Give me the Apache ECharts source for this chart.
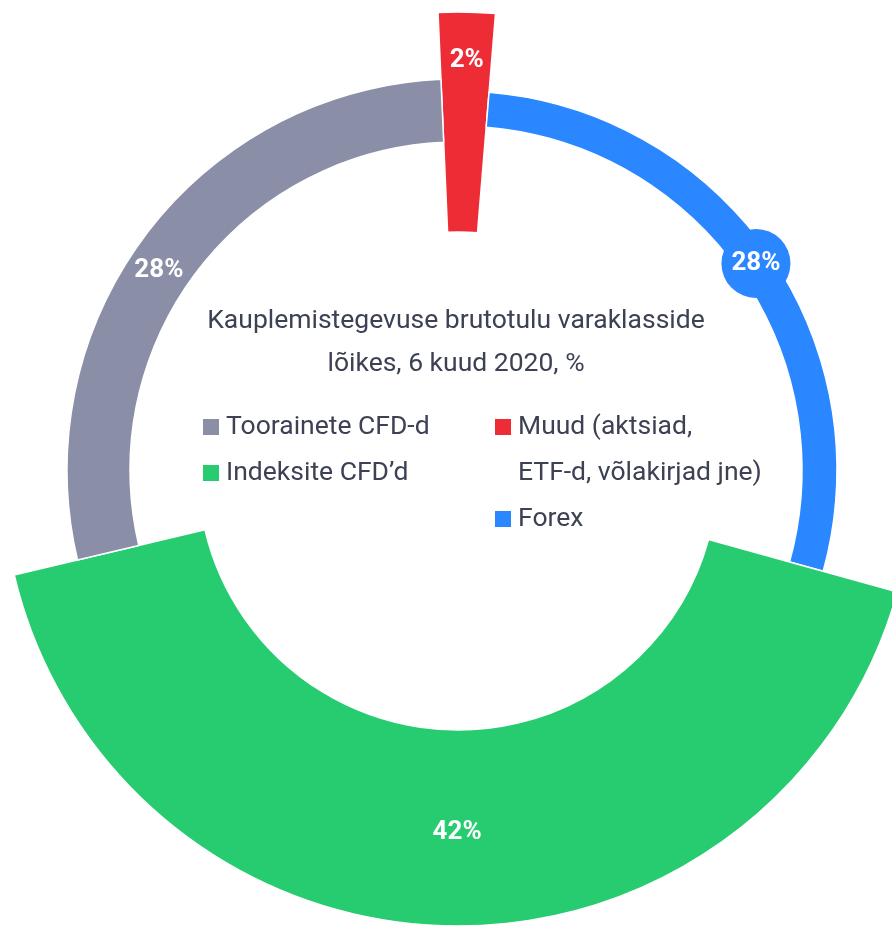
<!DOCTYPE html>
<html>
<head>
<meta charset="utf-8">
<script src="https://cdn.jsdelivr.net/npm/echarts@6/dist/echarts.min.js"></script>
<style>
  html, body { margin: 0; padding: 0; background: #fff; }
  #chart { width: 892px; height: 926px; }
</style>
</head>
<body>
<div id="chart"></div>
<script>
// andmed (clockwise from the top)
var names = ['Muud (aktsiad, ETF-d, võlakirjad jne)', 'Forex', 'Indeksite CFD’d', 'Toorainete CFD-d'];
var values = [2, 28, 42, 28];
var colors = ['#ee2c35', '#2a87ff', '#27cc70', '#8a8ea7'];

var titleText = 'Kauplemistegevuse brutotulu varaklasside\nlõikes, 6 kuud 2020, %';
var font = 'Roboto, "Noto Sans", sans-serif';
var textColor = '#3d4154';

// one pie per slice, each slice has its own ring thickness
function sliceSeries(k, r0, r1, label, labelLayout) {
  return {
    type: 'pie',
    center: [458, 470],
    radius: [r0, r1],
    startAngle: 92.5,
    clockwise: true,
    silent: true,
    animation: false,
    avoidLabelOverlap: false,
    labelLine: { show: false },
    labelLayout: labelLayout || {},
    data: names.map(function (n, i) {
      var own = i === k;
      return {
        name: n,
        value: values[i],
        itemStyle: own
          ? { color: colors[i], borderColor: '#fff', borderWidth: 1.5 }
          : { color: 'rgba(0,0,0,0)', borderWidth: 0 },
        label: own ? label : { show: false }
      };
    })
  };
}

function pctLabel(extra) {
  var l = {
    show: true,
    position: 'inside',
    formatter: function (p) { return Math.round(p.percent) + '%'; },
    color: '#fff',
    fontFamily: font,
    fontSize: 26,
    fontWeight: 'bold',
    textBorderWidth: 0
  };
  for (var key in extra) l[key] = extra[key];
  return l;
}

function legendItem(i, left, top, fmt) {
  return {
    selectedMode: false,
    orient: 'vertical',
    left: left,
    top: top,
    padding: 0,
    itemWidth: 16,
    itemHeight: 16,
    icon: 'rect',
    itemStyle: { borderWidth: 0 },
    formatter: fmt || '{name}',
    textStyle: {
      fontFamily: font,
      fontSize: 26.5,
      color: textColor,
      lineHeight: 46,
      padding: [0, 0, 0, 2],
      backgroundColor: 'rgba(0,0,0,0)'
    },
    data: [{ name: names[i], itemStyle: { color: colors[i], borderWidth: 0 } }]
  };
}

// first line of the long name sits next to the square, the rest wraps below
function wrapName(n) {
  return '\n' + n.replace(', ETF', ',\nETF');
}

var chart = echarts.init(document.getElementById('chart'));
var option = {
  backgroundColor: '#fff',
  title: {
    text: titleText,
    left: 456,
    top: 300,
    padding: 0,
    textAlign: 'center',
    textStyle: {
      fontFamily: font,
      fontSize: 26.5,
      fontWeight: 'normal',
      lineHeight: 42.7,
      color: textColor
    }
  },
  legend: [
    legendItem(3, 203, 404),
    legendItem(2, 203, 450),
    legendItem(0, 495, 358, wrapName),
    legendItem(1, 495, 496)
  ],
  series: [
    sliceSeries(0, 238, 458, pctLabel({}), { dx: 2, dy: -59 }),
    sliceSeries(1, 344, 379, pctLabel({
      backgroundColor: '#2a87ff',
      width: 69,
      height: 69,
      lineHeight: 69,
      align: 'center',
      borderRadius: 35
    }), { dx: -1, dy: 2 }),
    sliceSeries(2, 260, 456, pctLabel({}), { dx: 6, dy: 2 }),
    sliceSeries(3, 328, 391, pctLabel({}), { dx: -10, dy: 19 })
  ]
};
chart.setOption(option);
</script>
</body>
</html>
